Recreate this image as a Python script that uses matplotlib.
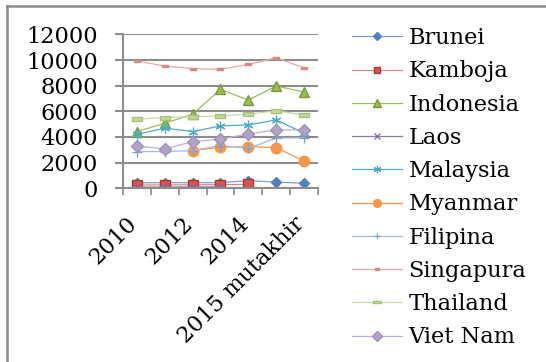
import numpy as np
import matplotlib
matplotlib.use("Agg")
import matplotlib.pyplot as plt
from matplotlib.lines import Line2D
from matplotlib.path import Path
from matplotlib.transforms import ScaledTranslation

nan = np.nan
years = ['2010', '2011', '2012', '2013', '2014', '2015', '2015 mutakhir']
shown_labels = ['2010', '', '2012', '', '2014', '', '2015 mutakhir']
yticks = [0, 2000, 4000, 6000, 8000, 10000, 12000]

brunei = [420, 430, 430, 430, 600, 480, 390]
kamboja = [250, 260, 270, 280, 300, nan, nan]
indonesia = [4420, 5070, 5770, 7710, 6880, 7970, 7510]
laos = [80, 90, 100, 110, nan, 120, nan]
malaysia = [4210, 4680, 4420, 4860, 4940, 5330, 4300]
myanmar = [nan, nan, 2940, 3200, 3250, 3170, 2130]
filipina = [2860, 2860, 2940, 3330, 3120, 3900, 3950]
singapura = [9920, 9530, 9330, 9270, 9660, 10180, 9380]
thailand = [5380, 5510, 5580, 5640, 5770, 6050, 5710]
vietnam = [3300, 3070, 3640, 3820, 4230, 4550, 4550]

names = ['Brunei', 'Kamboja', 'Indonesia', 'Laos', 'Malaysia', 'Myanmar',
         'Filipina', 'Singapura', 'Thailand', 'Viet Nam']
series = [brunei, kamboja, indonesia, laos, malaysia, myanmar,
          filipina, singapura, thailand, vietnam]

short_dash = Path([(-1, -0.5), (1, -0.5), (1, 0.5), (-1, 0.5), (-1, -0.5)],
                  [Path.MOVETO, Path.LINETO, Path.LINETO, Path.LINETO, Path.CLOSEPOLY])
long_dash = Path([(-1, -0.3), (1, -0.3), (1, 0.3), (-1, 0.3), (-1, -0.3)],
                 [Path.MOVETO, Path.LINETO, Path.LINETO, Path.LINETO, Path.CLOSEPOLY])

styles = [
    dict(color='#7f9fd0', marker='D', ms=5.0, mfc='#4f81bd', mec='#4f81bd'),
    dict(color='#d98886', marker='s', ms=6.5, mfc='#d9534f', mec='#a33b38'),
    dict(color='#9bbb59', marker='^', ms=7.5, mfc='#9bbb59', mec='#7a9a3a'),
    dict(color='#8f7ab0', marker='x', ms=5.0, mfc='#8064a2', mec='#8064a2', mew=0.9),
    dict(color='#4bacc6', marker=(6, 2, 0), ms=7.0, mfc='#4bacc6', mec='#4bacc6', mew=0.9),
    dict(color='#f79646', marker='o', ms=7.5, mfc='#f79646', mec='#f79646'),
    dict(color='#a5b8de', marker='+', ms=6.5, mfc='#7f9fd0', mec='#7f9fd0', mew=0.9),
    dict(color='#e8a8a6', marker=short_dash, ms=4.0, mfc='#d98886', mec='#d98886'),
    dict(color='#c9dca0', marker=long_dash, ms=7.5, mfc='#c3d69b', mec='#a9c47a'),
    dict(color='#bcaed6', marker='D', ms=6.5, mfc='#b3a2c7', mec='#a090c0'),
]

plt.rcParams['font.family'] = ['DejaVu Serif']
FS = 16.2
fig = plt.figure(figsize=(5.46, 3.62), dpi=100)
ax = fig.add_axes([0.2253, 0.48, 0.357, 0.425])

x = np.arange(1, len(years) + 1)
for name, vals, st in zip(names, series, styles):
    ax.plot(x, vals, lw=0.9, label=name, **st)

ax.set_xlim(0.5, len(years) + 0.5)
ax.set_ylim(0, 12000)
ax.set_yticks(yticks)
ax.set_yticklabels([str(v) for v in yticks], fontsize=FS)
ax.yaxis.grid(True, color='#8c8c8c', lw=1.5)
ax.set_axisbelow(True)

ax.set_xticks(np.arange(0.5, len(years) + 1, 1.0))
ax.set_xticklabels([])
ax.set_xticks(x, minor=True)
ax.set_xticklabels(shown_labels, minor=True, rotation=45, ha='right', va='center',
                   rotation_mode='anchor', fontsize=FS)
ax.tick_params(axis='x', which='minor', length=0, pad=23)
ax.tick_params(axis='x', which='major', length=5, width=1.2, color='#8c8c8c', direction='out')
ax.tick_params(axis='y', length=6, width=1.5, color='#8c8c8c', pad=12)

offset = ScaledTranslation(-3 / 100, 0, fig.dpi_scale_trans)
for lab in ax.get_xticklabels(minor=True):
    lab.set_transform(lab.get_transform() + offset)

for s in ['top', 'right']:
    ax.spines[s].set_visible(False)
ax.spines['left'].set_color('#8c8c8c')
ax.spines['left'].set_linewidth(1.5)
ax.spines['bottom'].set_color('#8c8c8c')
ax.spines['bottom'].set_linewidth(1.5)

leg = fig.legend(loc='upper left', bbox_to_anchor=(0.645, 0.925), frameon=False,
                 fontsize=FS, handlelength=2.2, handletextpad=0.3,
                 labelspacing=0.5, borderaxespad=0, borderpad=0, markerscale=0.75)

# outer frame (top and left edges visible)
fig.add_artist(Line2D([0.013, 1.0], [0.983, 0.983], transform=fig.transFigure,
                      color='#8c8c8c', lw=1.8))
fig.add_artist(Line2D([0.013, 0.013], [0.0, 0.983], transform=fig.transFigure,
                      color='#8c8c8c', lw=1.8))

fig.savefig('out.png', dpi=100)
